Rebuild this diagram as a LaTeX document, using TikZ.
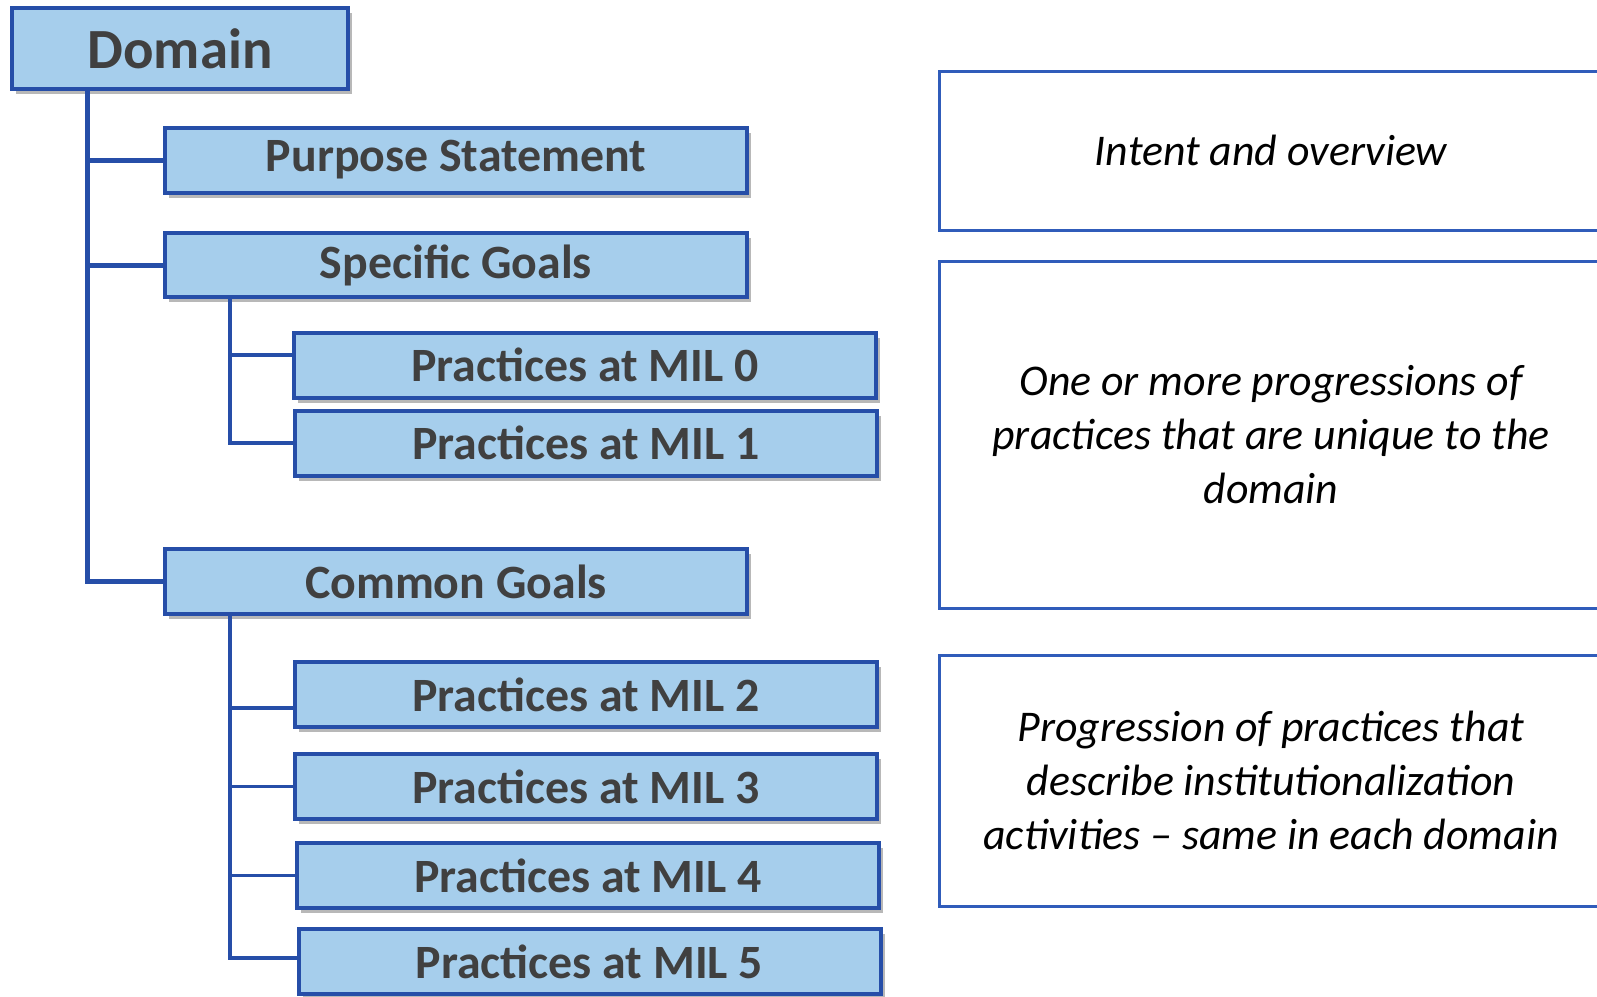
\documentclass[tikz,border=0pt]{standalone}
\usepackage{fontspec}
\setmainfont{Carlito}
\usepackage{tikz}
\usetikzlibrary{shadows}
\definecolor{milfill}{RGB}{166,206,236}
\definecolor{milblue}{RGB}{38,78,168}
\definecolor{noteblue}{RGB}{48,92,186}
\definecolor{labelgray}{RGB}{64,64,64}

\begin{document}
\begin{tikzpicture}[x=1bp,y=-1bp,
    level/.style={draw=milblue,line width=4bp,fill=milfill,text=labelgray,
        font=\fontsize{48}{56}\selectfont\bfseries,inner sep=0pt,
        minimum width=582bp,minimum height=65bp,
        drop shadow={shadow xshift=4bp,shadow yshift=-5bp,fill=black,opacity=0.28}},
    note/.style={draw=noteblue,line width=3bp,align=center,inner sep=0pt,
        minimum width=664bp,font=\fontsize{44}{54}\selectfont\itshape},
    trunk/.style={draw=milblue,line width=5bp},
    branch/.style={draw=milblue,line width=3.5bp}]
    \useasboundingbox (0,0) rectangle (1597,996);
    \clip (0,0) rectangle (1597,996);

    % Model structure
    \node[level,minimum width=336bp,minimum height=81bp,
        font=\fontsize{57}{66}\selectfont\bfseries] (domain) at (180,48.5) {Domain};
    \node[level] (purpose) at (456,160) {Purpose Statement};
    \node[level,minimum height=64bp] (specific) at (456,265) {Specific Goals};
    \node[level] (common) at (456,581.5) {Common Goals};
    \foreach \n/\x/\y in {0/585/365, 1/586/443, 2/586/694.5, 3/586/786.5, 4/588/875.5, 5/589.5/961.5} {
        \node[level] (mil\n) at (\x,\y) {Practices at MIL \n};
    }

    % Tree lines
    \coordinate (root) at (87,89);
    \coordinate (sgroot) at (230,297);
    \coordinate (cgroot) at (230,614);
    \draw[trunk] (root) |- (common.west);
    \draw[trunk] (root |- purpose.west) -- (purpose.west);
    \draw[trunk] (root |- specific.west) -- (specific.west);
    \draw[branch] (sgroot) |- ([yshift=10bp]mil0.west);
    \draw[branch] (sgroot) |- (mil1.west);
    \foreach \n/\dy in {2/-13.5, 3/0, 4/0, 5/3.5} {
        \draw[branch] (cgroot) |- ([yshift=\dy bp]mil\n.west);
    }

    % Descriptions
    \node[note,minimum height=159bp] (intent) at (1271,150.5) {Intent and overview};
    \node[note,minimum height=347bp] (unique) at (1271,434.5)
        {One or more progressions of\\practices that are unique to the\\domain};
    \node[note,minimum height=251bp] (same) at (1271,780.5)
        {Progression of practices that\\describe institutionalization\\activities -- same in each domain};
\end{tikzpicture}
\end{document}
